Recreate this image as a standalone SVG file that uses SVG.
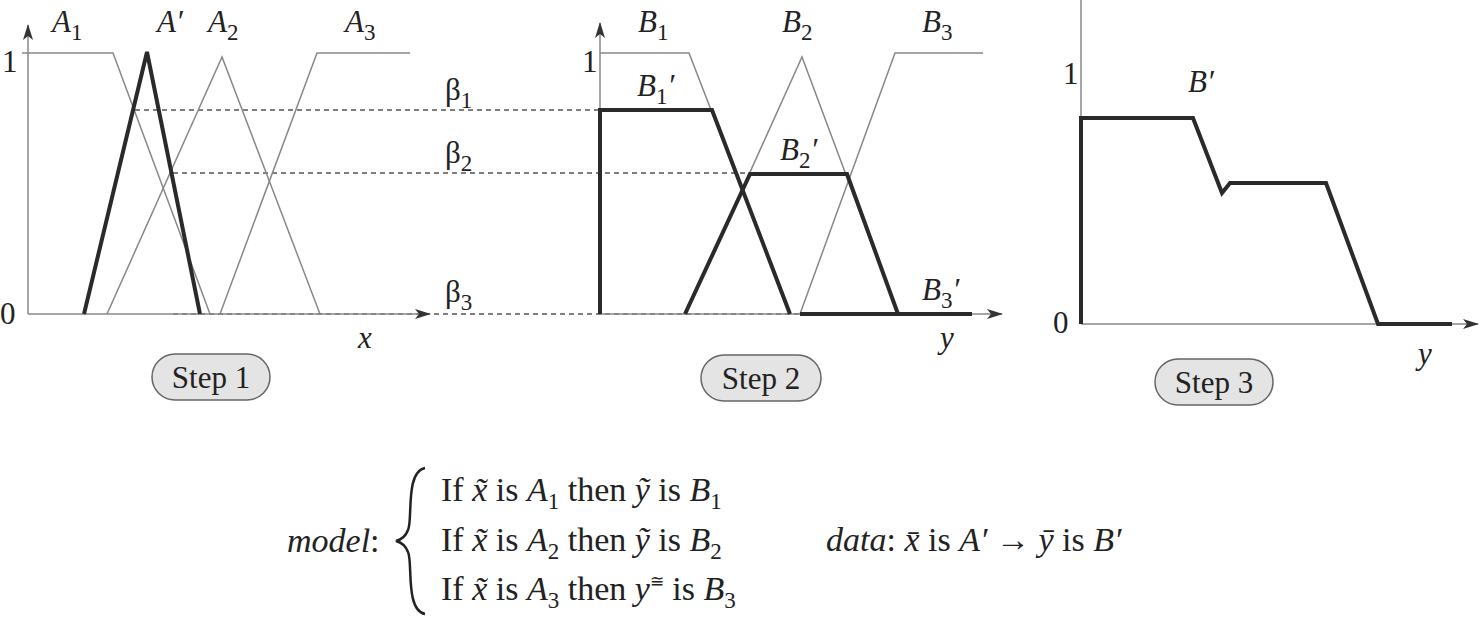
<svg xmlns="http://www.w3.org/2000/svg" width="1483" height="617" viewBox="0 0 1483 617" font-family="'Liberation Serif', 'DejaVu Serif', serif">
<style>
text{font-family:'Liberation Serif','DejaVu Serif',serif;fill:#222}
.it{font-style:italic}
.l{font-size:31px}
.f{font-size:34px}
.thin{fill:none;stroke:#888;stroke-width:1.5}
.thick{fill:none;stroke:#2a2a2a;stroke-width:4;stroke-linejoin:miter}
.ax{fill:none;stroke:#888;stroke-width:1.5}
.dash{fill:none;stroke:#555;stroke-width:1.3;stroke-dasharray:5,4}
.pill{fill:#e4e4e4;stroke:#666;stroke-width:1.5}
.sub{font-size:23px}
</style>
<defs>
<marker id="ar" markerWidth="16" markerHeight="10" refX="15" refY="5" orient="auto" markerUnits="userSpaceOnUse"><path d="M0,0 L16,5 L0,10 L4,5 z" fill="#333"/></marker>
</defs>
<g id="connectors">
<path class="dash" d="M135,110 H600"/>
<path class="dash" d="M173,173 H750"/>
<path class="dash" d="M173,314 H800"/>
</g>
<g id="step1">
<path class="ax" d="M28,314 V25" marker-end="url(#ar)"/>
<path class="ax" d="M28,314 H430" marker-end="url(#ar)"/>
<path class="ax" d="M22,53 H28"/>
<text x="2" y="72" class="l">1</text>
<text x="0" y="324" class="l">0</text>
<path class="thin" d="M28,53 H113 L210,314"/>
<path class="thin" d="M107,314 L222,57 L320,314"/>
<path class="thin" d="M220,314 L317,53 H410"/>
<path class="thick" d="M84,314 L147,52 L200,314"/>
<text x="52" y="32" class="l it">A<tspan class="sub" dy="8" font-style="normal">1</tspan></text>
<text x="157" y="32" class="l it">A′</text>
<text x="208" y="32" class="l it">A<tspan class="sub" dy="8" font-style="normal">2</tspan></text>
<text x="345" y="32" class="l it">A<tspan class="sub" dy="8" font-style="normal">3</tspan></text>
<text x="445" y="100" class="l">β<tspan class="sub" dy="8">1</tspan></text>
<text x="445" y="163" class="l">β<tspan class="sub" dy="8">2</tspan></text>
<text x="445" y="302" class="l">β<tspan class="sub" dy="8">3</tspan></text>
<text x="358" y="348" class="l it">x</text>
</g>
<g id="step1-label"><rect class="pill" x="152" y="354" width="118" height="46" rx="23"/><text x="211" y="388" class="l" text-anchor="middle">Step 1</text></g>
<g id="step2">
<path class="ax" d="M600,314 V23" marker-end="url(#ar)"/>
<path class="ax" d="M600,314 H1002" marker-end="url(#ar)"/>
<text x="582" y="72" class="l">1</text>
<path class="thin" d="M600,53 H689 L790,314"/>
<path class="thin" d="M686,314 L802,57 L898,314"/>
<path class="thin" d="M800,314 L895,53 H983"/>
<path class="thick" d="M600,314 V110 H712 L790,314"/>
<path class="thick" d="M685,314 L750,174 H847 L898,314"/>
<path class="thick" d="M800,314 H972"/>
<text x="638" y="32" class="l it">B<tspan class="sub" dy="8" font-style="normal">1</tspan></text>
<text x="782" y="32" class="l it">B<tspan class="sub" dy="8" font-style="normal">2</tspan></text>
<text x="922" y="32" class="l it">B<tspan class="sub" dy="8" font-style="normal">3</tspan></text>
<text x="637" y="96" class="l it">B<tspan class="sub" dy="8" font-style="normal">1</tspan><tspan dy="-8">′</tspan></text>
<text x="780" y="160" class="l it">B<tspan class="sub" dy="8" font-style="normal">2</tspan><tspan dy="-8">′</tspan></text>
<text x="922" y="300" class="l it">B<tspan class="sub" dy="8" font-style="normal">3</tspan><tspan dy="-8">′</tspan></text>
<text x="940" y="348" class="l it">y</text>
</g>
<g id="step2-label"><rect class="pill" x="701" y="355" width="120" height="46" rx="23"/><text x="761" y="389" class="l" text-anchor="middle">Step 2</text></g>
<g id="step3">
<path class="ax" d="M1081,324 V0"/>
<path class="ax" d="M1081,324 H1478" marker-end="url(#ar)"/>
<text x="1063" y="84" class="l">1</text>
<text x="1053" y="333" class="l">0</text>
<path class="thick" d="M1081,324 V118 H1193 L1222,193 L1230,183 H1326 L1378,324 H1452"/>
<text x="1188" y="92" class="l it">B′</text>
<text x="1418" y="364" class="l it">y</text>
</g>
<g id="step3-label"><rect class="pill" x="1155" y="359" width="118" height="46" rx="23"/><text x="1214" y="393" class="l" text-anchor="middle">Step 3</text></g>
<g id="formula">
<text x="287" y="552" class="f"><tspan class="it">model</tspan>:</text>
<path d="M425,468 C405,472 413,520 408,530 C405,538 400,540 396,541 C400,542 405,544 408,552 C413,562 405,610 425,614" fill="none" stroke="#222" stroke-width="2.5"/>
<text x="441" y="501" class="f">If <tspan class="it">x̃</tspan> is <tspan class="it">A</tspan><tspan class="sub" dy="8">1</tspan><tspan dy="-8"> then </tspan><tspan class="it">ỹ</tspan> is <tspan class="it">B</tspan><tspan class="sub" dy="8">1</tspan></text>
<text x="441" y="551" class="f">If <tspan class="it">x̃</tspan> is <tspan class="it">A</tspan><tspan class="sub" dy="8">2</tspan><tspan dy="-8"> then </tspan><tspan class="it">ỹ</tspan> is <tspan class="it">B</tspan><tspan class="sub" dy="8">2</tspan></text>
<text x="441" y="600" class="f">If <tspan class="it">x̃</tspan> is <tspan class="it">A</tspan><tspan class="sub" dy="8">3</tspan><tspan dy="-8"> then </tspan><tspan class="it">y</tspan><tspan font-size="17" dy="-13">≅</tspan><tspan dy="13"> is </tspan><tspan class="it">B</tspan><tspan class="sub" dy="8">3</tspan></text>
<text x="826" y="551" class="f"><tspan class="it">data</tspan>: <tspan class="it">x̄</tspan> is <tspan class="it">A′</tspan> → <tspan class="it">ȳ</tspan> is <tspan class="it">B′</tspan></text>
</g>
</svg>
